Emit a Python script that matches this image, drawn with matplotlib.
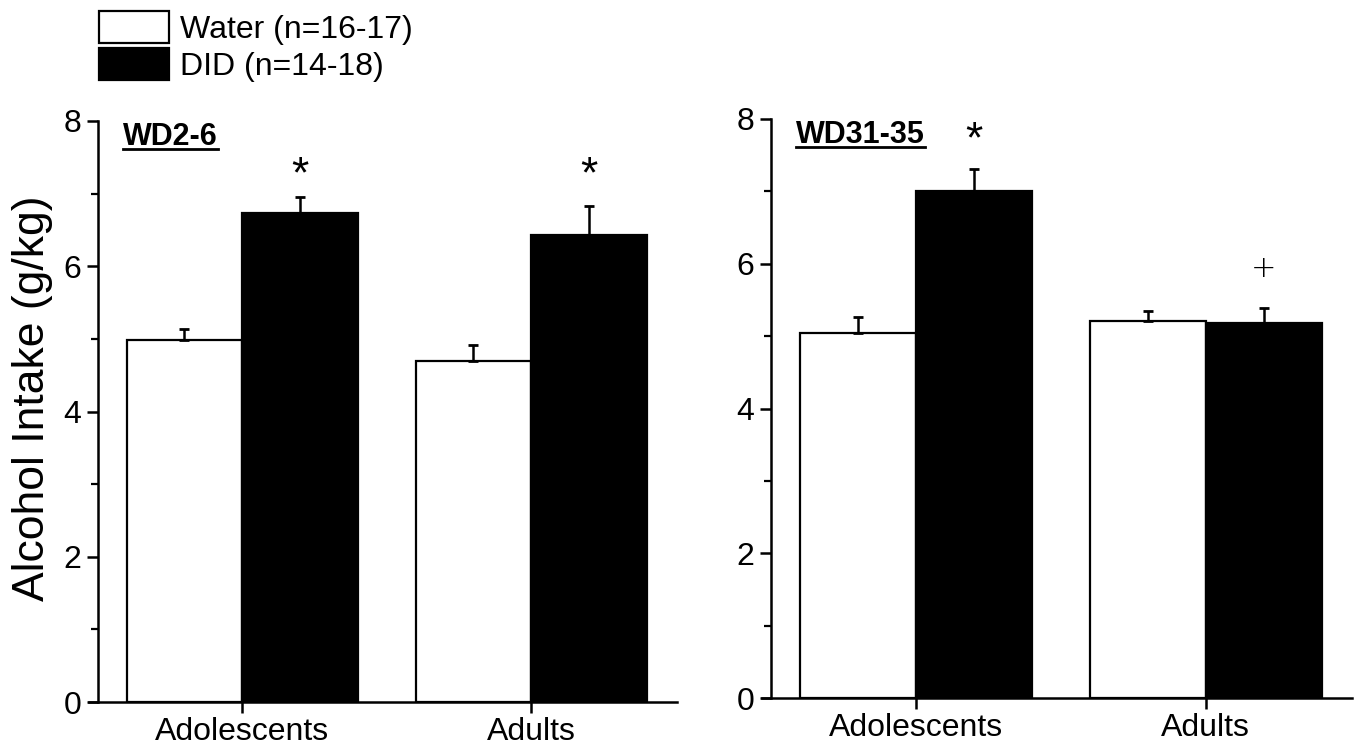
import matplotlib
matplotlib.use("Agg")
import matplotlib.pyplot as plt
from matplotlib.patches import Patch
import numpy as np

plt.rcParams['font.family'] = ['Liberation Sans', 'DejaVu Sans']

# data
groups = ['Adolescents', 'Adults']
series = ['Water (n=16-17)', 'DID (n=14-18)']
colors = ['white', 'black']

wd2_water = [4.98, 4.69]
wd2_water_sem = [0.16, 0.23]
wd2_did = [6.74, 6.43]
wd2_did_sem = [0.21, 0.40]
wd2_marks = ['*', '*']           # marks above DID bars
wd2_mark_y = [7.25, 7.25]

wd31_water = [5.05, 5.21]
wd31_water_sem = [0.21, 0.14]
wd31_did = [7.01, 5.18]
wd31_did_sem = [0.30, 0.21]
wd31_marks = ['*', '+']
wd31_mark_y = [7.70, 5.93]

panels = [
    ('WD2-6', wd2_water, wd2_water_sem, wd2_did, wd2_did_sem, wd2_marks, wd2_mark_y),
    ('WD31-35', wd31_water, wd31_water_sem, wd31_did, wd31_did_sem, wd31_marks, wd31_mark_y),
]

W, H = 1358, 747
fig = plt.figure(figsize=(W / 100, H / 100), dpi=100)
ax_boxes = [
    [89 / W, 1 - 702 / H, 588 / W, 581 / H],
    [762 / W, 1 - 698 / H, 590 / W, 579 / H],
]

bw = 0.4
x = np.arange(len(groups))
for box, (title, water, water_sem, did, did_sem, marks, mark_y) in zip(ax_boxes, panels):
    ax = fig.add_axes(box)
    for vals, sem, col, off in [(water, water_sem, colors[0], -bw / 2),
                                (did, did_sem, colors[1], bw / 2)]:
        ax.bar(x + off, vals, width=bw, color=col, edgecolor='black', linewidth=1.6, zorder=2)
        ax.errorbar(x + off, vals, yerr=[np.zeros(len(sem)), sem], fmt='none',
                    ecolor='black', elinewidth=1.8, capsize=3.5, capthick=2.0, zorder=3)
    for xi, m, my in zip(x, marks, mark_y):
        if m == '*':
            ax.text(xi + bw / 2, my, m, ha='center', va='center', fontsize=32)
        else:
            ax.text(xi + bw / 2, my, m, ha='center', va='center', fontsize=22,
                    family='DejaVu Sans', fontweight='light')
    ax.text(0.058, 0.972, title, transform=ax.transAxes, fontsize=22, fontweight='bold',
            ha='left', va='center')
    ax.set_xlim(-0.53, 1.505)
    ax.set_ylim(0, 8)
    ax.set_xticks(x)
    ax.set_xticklabels(groups)
    ax.set_yticks([0, 2, 4, 6, 8])
    ax.set_yticks([1, 3, 5, 7], minor=True)
    ax.spines['top'].set_visible(False)
    ax.spines['right'].set_visible(False)
    ax.spines['left'].set_position(('data', -0.5))
    ax.spines['left'].set_bounds(0, 8)
    for s in ['left', 'bottom']:
        ax.spines[s].set_linewidth(1.8)
    ax.tick_params(axis='both', which='major', labelsize=23, width=1.8, length=8, direction='out')
    ax.tick_params(axis='y', which='minor', width=1.6, length=5, direction='out')
    ax.tick_params(axis='y', which='major', pad=4)
    ax.tick_params(axis='x', which='major', pad=3)
    ax.patch.set_visible(False)
    if title == 'WD2-6':
        ax.set_ylabel('Alcohol Intake (g/kg)', fontsize=32)
        ax.yaxis.set_label_coords(-0.062, 0.523)

# underline panel titles
fig.canvas.draw()
inv = fig.transFigure.inverted()
for ax in fig.axes:
    for t in ax.texts:
        if t.get_text().startswith('WD'):
            bb = t.get_window_extent()
            (x0, y0), (x1, y1) = inv.transform([(bb.x0, bb.y0), (bb.x1, bb.y0)])
            fig.add_artist(plt.Line2D([x0, x1], [y0 + 0.004, y0 + 0.004], color='black', lw=2.0))

handles = [Patch(facecolor=c, edgecolor='black', linewidth=1.6) for c in colors]
fig.legend(handles, series, loc='upper left', bbox_to_anchor=(99 / W, 1 - 11 / H),
           frameon=False, fontsize=23, handlelength=2.2, handleheight=1.15,
           handletextpad=0.35, labelspacing=0.1, borderpad=0, borderaxespad=0)

fig.savefig('out.png', dpi=100)
